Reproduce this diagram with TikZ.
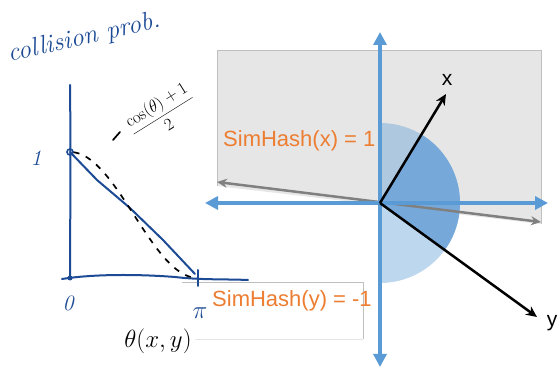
\documentclass[tikz,border=0pt]{standalone}
\usepackage{fontspec}
\newfontfamily\arial{Liberation Sans}
\usetikzlibrary{arrows.meta}
\definecolor{axisblue}{HTML}{5B9BD5}
\definecolor{sectorblue}{HTML}{76A9DA}
\definecolor{ink}{HTML}{1C4A95}
\definecolor{hashorange}{HTML}{ED7D31}
\definecolor{planegray}{HTML}{E6E6E6}
\definecolor{planeborder}{HTML}{BFBFBF}
\definecolor{linegray}{HTML}{808080}
\tikzset{
  blueaxis/.style={draw=axisblue, line width=4.5pt, {Triangle[length=13pt,width=13pt]}-{Triangle[length=13pt,width=13pt]}},
  grayline/.style={draw=linegray, line width=2.5pt, {Stealth[length=10pt,width=9pt]}-{Stealth[length=10pt,width=9pt]}},
  vec/.style={draw=black, line width=2.5pt, -{Stealth[length=11pt,width=10pt]}},
  hashlabel/.style={text=hashorange, font=\arial\fontsize{22}{26}\selectfont, inner sep=0pt},
  veclabel/.style={font=\arial\fontsize{21}{25}\selectfont, inner sep=0pt},
  inkline/.style={draw=ink, line width=2pt, line cap=round},
  inktext/.style={text=ink, inner sep=0pt},
  pentext/.style={text=black, inner sep=0pt},
  dashcurve/.style={draw=black, line width=1.7pt, dash pattern=on 6pt off 7pt}
}
\begin{document}
\begin{tikzpicture}[x=1pt,y=1pt]
\useasboundingbox (0,0) rectangle (559,374);

% ---- plane (half space) ----
\fill[planegray] (217,188) -- (217,323) -- (541,323) -- (541,150) -- cycle;
\draw[planeborder, line width=1pt] (217,188) -- (217,323) -- (541,323) -- (541,150);

% ---- half disk and sector ----
\coordinate (O) at (380,171);
\fill[axisblue, opacity=0.4] (O) -- ++(0,80) arc[start angle=90, end angle=-90, radius=80] -- cycle;
\fill[sectorblue] (O) -- ++(58.8:80) arc[start angle=58.8, end angle=-36, radius=80] -- cycle;

% ---- tilted gray line ----
\coordinate (gl) at (217,192);
\coordinate (gr) at (541,152);
\draw[grayline] (gl) -- (gr);

% ---- blue axes ----
\coordinate (hl) at (205,171);
\coordinate (hr) at (548,171);
\coordinate (vt) at (380,342);
\coordinate (vb) at (380,7);
\draw[blueaxis] (hl) -- (hr);
\draw[blueaxis] (vb) -- (vt);

% ---- vectors ----
\coordinate (xt) at (446,280);
\coordinate (yt) at (537,57);
\draw[vec] (O) -- (xt);
\draw[vec] (O) -- (yt);
\node[veclabel] (xl) at (447,294) {x};
\node[veclabel] (yl) at (552,51) {y};

% ---- hash labels ----
\node[hashlabel, anchor=base west] (hx) at (223,227) {SimHash(x) = 1};
\fill[white] (182,35) rectangle (363,92);
\draw[planeborder, line width=0.8pt] (182,92) -- (363,92) -- (363,35);
\draw[planeborder!40, line width=0.8pt] (363,35) -- (195,35);
\node[hashlabel, anchor=base west] (hy) at (212,67) {SimHash(y) = -1};

% ---- handwritten plot ----
\node[inktext, rotate=13, font=\itshape\fontsize{26}{28}\selectfont] (title) at (84,336) {collision prob.};

\coordinate (ytop) at (70,289);
\coordinate (orig) at (70,96);
\coordinate (one) at (70,222);
\draw[inkline] (ytop) .. controls (71,200) and (70,150) .. (orig);
\draw[inkline] (62,95) .. controls (100,101) and (150,99) .. (175,97) .. controls (200,94) and (225,95) .. (248,94);
\fill[ink] (orig) circle[radius=2.5pt];
\draw[ink, line width=1.6pt] (one) circle[radius=3pt];
\draw[inkline] (198,104) -- (198,88);
\draw[inkline] (one) -- (97,194) -- (130,166) -- (163,134) -- (195,100);

\draw[dashcurve] plot[domain=5:172, samples=60] ({70+0.71111*\x},{159+63*cos(\x)});
\draw[draw=black, line width=1.7pt, line cap=round] (113,234) -- (120,242);

\node[inktext, font=\itshape\fontsize{22}{24}\selectfont] (l1) at (36,216) {1};
\node[inktext, font=\itshape\fontsize{22}{24}\selectfont] (l0) at (68,71) {0};
\node[inktext, font=\fontsize{24}{26}\selectfont] (lpi) at (200,61) {$\pi$};
\node[pentext, font=\fontsize{27}{30}\selectfont] (theta) at (158,33) {$\theta(x,y)$};
\node[pentext, rotate=32, font=\fontsize{17}{20}\selectfont] (frac) at (162,260) {$\displaystyle\frac{\cos(\theta)+1}{2}$};
\end{tikzpicture}
\end{document}
